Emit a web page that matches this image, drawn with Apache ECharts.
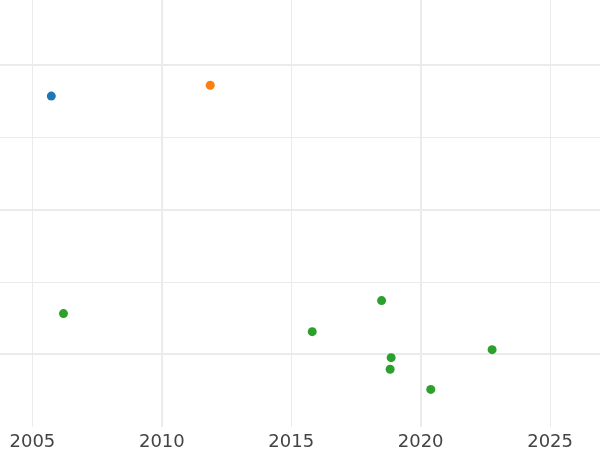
<!DOCTYPE html>
<html>
<head>
<meta charset="utf-8">
<script src="https://cdn.jsdelivr.net/npm/echarts@6/dist/echarts.min.js"></script>
<style>
    html, body { margin: 0; padding: 0; background: #fff; }
    #chart { width: 600px; height: 450px; }
</style>
</head>
<body>
<div id="chart"></div>
<script>
// points (x = year, y = unlabeled value)
var blueYears = [2005.73];
var blueValues = [3.57];
var orangeYears = [2011.87];
var orangeValues = [3.72];
var greenYears = [2006.2, 2015.81, 2018.49, 2018.86, 2018.82, 2020.39, 2022.76];
var greenValues = [0.56, 0.31, 0.74, -0.05, -0.21, -0.49, 0.06];

var xTickYears = [2005, 2010, 2015, 2020, 2025];

function pairs(xs, ys) {
    return xs.map(function (x, i) {
        return [x, ys[i]];
    });
}

var chart = echarts.init(document.getElementById("chart"));

var gridColor = "#ebebeb";

var option = {
    animation: false,
    grid: [
        // plot area: x axis runs past the page edges so its min/max fall on 5-year steps
        { left: -97, right: -79.5, top: 0, bottom: 23, outerBoundsMode: "none", containLabel: false },
        // helper grid for the horizontal lines (0 at the bottom line)
        { left: 0, right: 0, top: -79.5, bottom: 96, outerBoundsMode: "none", containLabel: false },
    ],
    xAxis: [
        {
            // labels
            type: "value",
            gridIndex: 0,
            min: 2000,
            max: 2030,
            interval: 5,
            position: "bottom",
            axisLine: { show: false },
            axisTick: { show: false },
            splitLine: { show: false },
            axisLabel: {
                color: "#444",
                fontSize: 18,
                fontFamily: "DejaVu Sans",
                margin: 6,
                formatter: function (v) {
                    return xTickYears.indexOf(v) >= 0 ? String(v) : "";
                },
            },
        },
        {
            // vertical lines: thick every 10 years, thin in between
            type: "value",
            gridIndex: 0,
            min: 2000,
            max: 2030,
            interval: 10,
            position: "bottom",
            axisLine: { show: false },
            axisTick: { show: false },
            axisLabel: { show: false },
            splitLine: { show: true, lineStyle: { color: gridColor, width: 2 } },
            minorSplitLine: { show: true, lineStyle: { color: gridColor, width: 1 } },
            minorTick: { show: false, splitNumber: 2 },
        },
        {
            type: "value",
            gridIndex: 1,
            min: 0,
            max: 1,
            show: false,
        },
    ],
    yAxis: [
        {
            type: "value",
            gridIndex: 0,
            min: -1.01,
            max: 4.9,
            show: false,
            splitLine: { show: false },
        },
        {
            // horizontal lines
            type: "value",
            gridIndex: 1,
            min: 0,
            max: 6,
            interval: 2,
            axisLine: { show: false },
            axisTick: { show: false },
            axisLabel: { show: false },
            splitLine: { show: true, lineStyle: { color: gridColor, width: 2 } },
            minorSplitLine: { show: true, lineStyle: { color: gridColor, width: 1 } },
            minorTick: { show: false, splitNumber: 2 },
        },
    ],
    series: [
        {
            type: "scatter",
            xAxisIndex: 0,
            yAxisIndex: 0,
            symbolSize: 9,
            itemStyle: { color: "#1f77b4", opacity: 1 },
            data: pairs(blueYears, blueValues),
        },
        {
            type: "scatter",
            xAxisIndex: 0,
            yAxisIndex: 0,
            symbolSize: 9,
            itemStyle: { color: "#ff7f0e", opacity: 1 },
            data: pairs(orangeYears, orangeValues),
        },
        {
            type: "scatter",
            xAxisIndex: 0,
            yAxisIndex: 0,
            symbolSize: 9,
            itemStyle: { color: "#2ca02c", opacity: 1 },
            data: pairs(greenYears, greenValues),
        },
    ],
};

chart.setOption(option);
</script>
</body>
</html>
